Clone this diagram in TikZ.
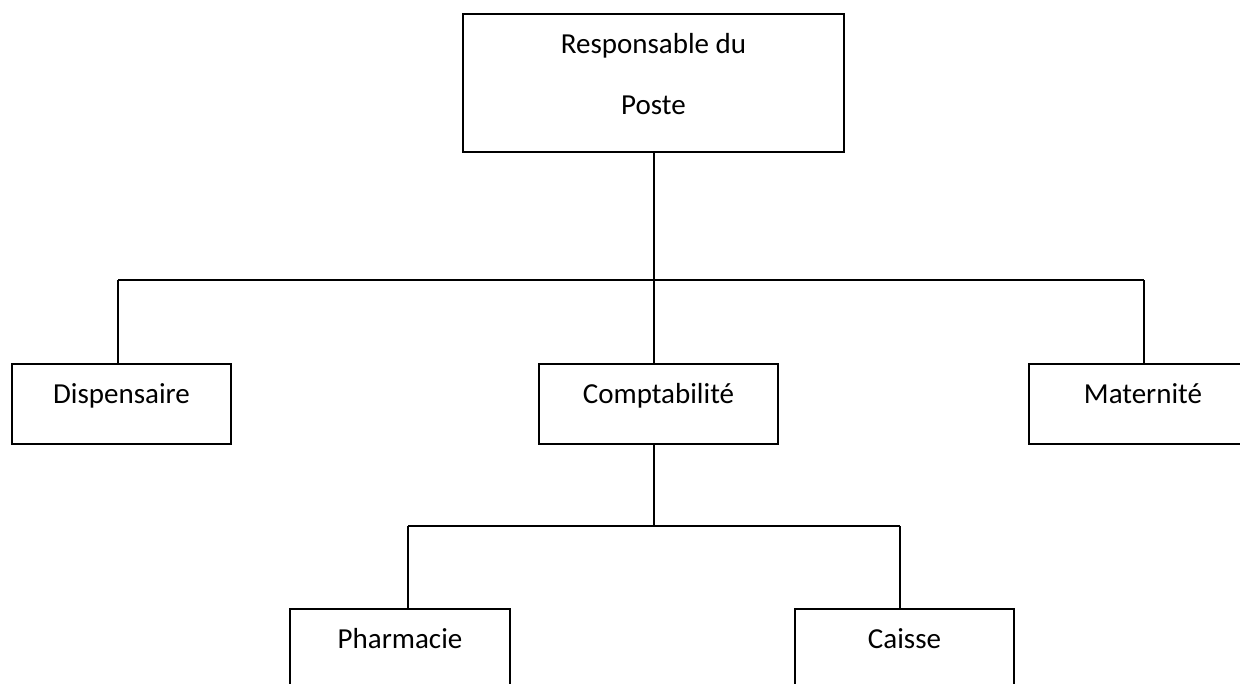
\documentclass[tikz,border=0pt]{standalone}
\usepackage{fontspec}
\setmainfont{Carlito}
\begin{document}
\begin{tikzpicture}[x=0.5pt,y=-0.5pt,line width=1pt,
  boite/.style={draw,rectangle,inner sep=0pt,anchor=north west,
    font=\fontsize{14.5}{17}\selectfont,text height=19.5pt,text depth=20.5pt}]
\useasboundingbox (0,0) rectangle (1240,684);
\clip (0,0) rectangle (1240,684);
% boites
\node[draw,inner sep=0pt,anchor=north west,minimum width=190.5pt,minimum height=69pt,
  align=center,font=\fontsize{14.5}{30.5}\selectfont] (resp) at (462,13)
  {Responsable du\\Poste\rule[-9pt]{0pt}{9pt}};
\node[boite,minimum width=109.5pt] (disp) at (11,363) {Dispensaire};
\node[boite,minimum width=119.5pt] (compta) at (538,363) {Comptabilité};
\node[boite,minimum width=114pt] (mater) at (1028,363) {Maternité};
\node[boite,minimum width=110pt] (pharma) at (289,608) {Pharmacie};
\node[boite,minimum width=109.5pt] (caisse) at (794,608) {Caisse};
% liaisons
\coordinate (dl) at (118,280); \coordinate (dr) at (1144,280);
\coordinate (pl) at (408,526); \coordinate (pr) at (900,526);
\draw (resp.south) -- (resp.south |- compta.north);
\draw (dl) -- (dr);
\draw (dl) -- (dl |- disp.north);
\draw (dr) -- (dr |- mater.north);
\draw (resp.south |- compta.south) -- (resp.south |- pl);
\draw (pl) -- (pr);
\draw (pl) -- (pl |- pharma.north);
\draw (pr) -- (pr |- caisse.north);
\end{tikzpicture}
\end{document}
